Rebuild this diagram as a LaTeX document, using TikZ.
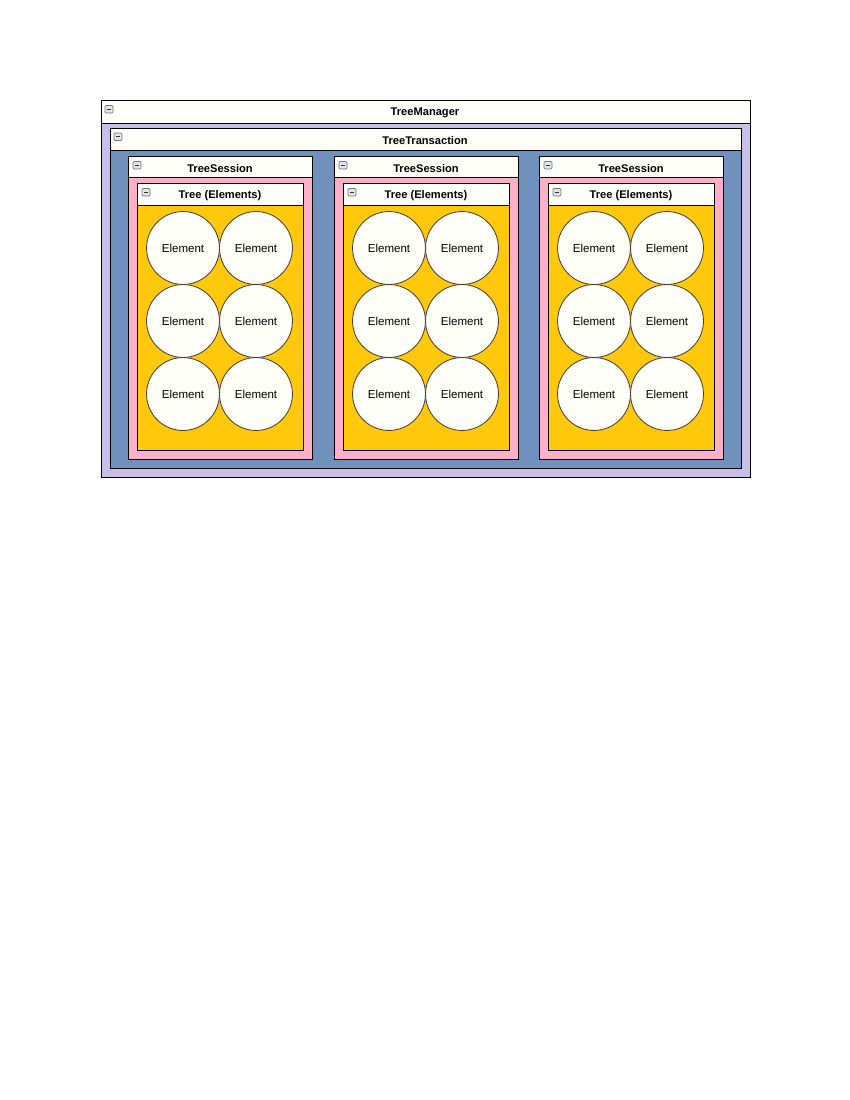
\documentclass[tikz,border=0pt]{standalone}
\usepackage{fontspec}
\setmainfont{Liberation Sans}

\definecolor{headwhite}{RGB}{255,255,250}
\definecolor{managerbg}{RGB}{200,192,232}
\definecolor{transbg}{RGB}{112,144,190}
\definecolor{sessionbg}{RGB}{255,176,200}
\definecolor{treebg}{RGB}{255,200,10}
\definecolor{elemline}{RGB}{70,62,50}
\definecolor{iconfill}{RGB}{225,228,232}
\definecolor{iconline}{RGB}{110,120,135}

\tikzset{
  box/.style={draw=black, line width=0.6pt},
  title/.style={font=\fontsize{8}{9}\selectfont\bfseries, inner sep=0pt},
  element/.style={circle, draw=elemline, line width=0.6pt, fill=headwhite,
    minimum size=52.5pt, inner sep=0pt, font=\fontsize{8.3}{9}\selectfont},
  collapse/.pic={
    \draw[fill=iconfill, draw=iconline, line width=0.6pt, rounded corners=0.8pt] (0,0) rectangle (8,7.5);
    \draw[line width=0.8pt, draw=black!80] (2,3.75) -- (6,3.75);
  }
}

\begin{document}
\begin{tikzpicture}[x=0.72pt, y=-0.72pt]
\useasboundingbox[fill=white] (0,0) rectangle (850,1100);

% TreeManager
\draw[box, fill=managerbg] (101,100) rectangle (750,477);
\draw[box, fill=headwhite] (101,100) rectangle (750,123);
\pic at (105,105.5) {collapse};
\node[title] (mgrtitle) at (425,113) {TreeManager};

% TreeTransaction
\draw[box, fill=transbg] (110,128) rectangle (741,468);
\draw[box, fill=headwhite] (110,128) rectangle (741,150);
\pic at (114,133) {collapse};
\node[title] (transtitle) at (425,141) {TreeTransaction};

% TreeSessions with their trees
\foreach \sx/\n in {128/1, 334/2, 539/3} {
  \draw[box, fill=sessionbg] (\sx,156) rectangle (\sx+184,459);
  \draw[box, fill=headwhite] (\sx,156) rectangle (\sx+184,177);
  \pic at (\sx+5,161.5) {collapse};
  \node[title] (sesstitle\n) at (\sx+92,168.5) {TreeSession};

  \draw[box, fill=treebg] (\sx+9,183) rectangle (\sx+175,450);
  \draw[box, fill=headwhite] (\sx+9,183) rectangle (\sx+175,205);
  \pic at (\sx+14,188.5) {collapse};
  \node[title] (treetitle\n) at (\sx+92,196) {Tree (Elements)};

  \foreach \ey/\r in {248/1, 321/2, 394/3} {
    \node[element] (el\n-\r-a) at (\sx+55,\ey) {Element};
    \node[element] (el\n-\r-b) at (\sx+128,\ey) {Element};
  }
}
\end{tikzpicture}
\end{document}
